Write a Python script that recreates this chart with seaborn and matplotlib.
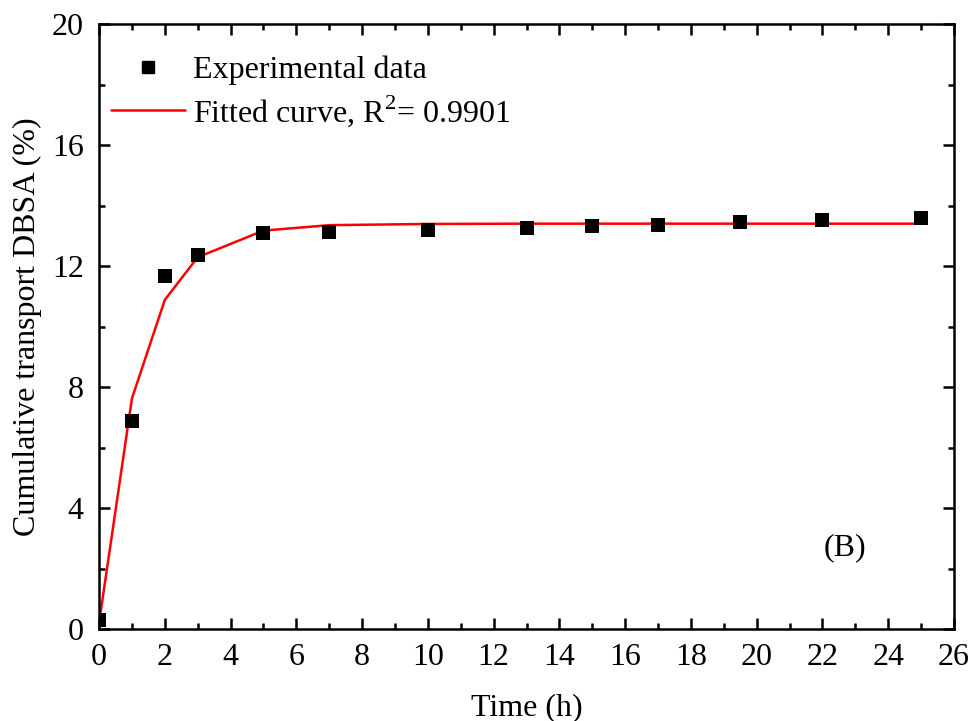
import matplotlib

matplotlib.use("Agg")

import matplotlib.pyplot as plt
import pandas as pd
import seaborn as sns
from matplotlib.lines import Line2D
from matplotlib.ticker import MultipleLocator

# experimental points
time_exp = [0, 1, 2, 3, 5, 7, 10, 13, 15, 17, 19.5, 22, 25]
transport_exp = [0.3, 6.87, 11.68, 12.37, 13.08, 13.13, 13.19, 13.26, 13.32, 13.37, 13.44, 13.53, 13.6]

# fitted curve, same time points
time_fit = [0, 1, 2, 3, 5, 7, 10, 13, 15, 17, 19.5, 22, 25]
transport_fit = [0.2, 7.62, 10.88, 12.29, 13.17, 13.35, 13.39, 13.4, 13.4, 13.4, 13.4, 13.4, 13.4]

exp_df = pd.DataFrame({"time": time_exp, "value": transport_exp})
fit_df = pd.DataFrame({"time": time_fit, "value": transport_fit})

sns.set_style("ticks")
plt.rcParams["font.family"] = ["Liberation Serif", "DejaVu Serif"]
plt.rcParams["mathtext.fontset"] = "custom"
plt.rcParams["mathtext.rm"] = "Liberation Serif"
plt.rcParams["text.color"] = "black"
plt.rcParams["axes.labelcolor"] = "black"

FS = 23

fig = plt.figure(figsize=(9.72, 7.21), dpi=100)
ax = fig.add_axes([0.1019, 0.1276, 0.8796, 0.8391])

sns.lineplot(data=fit_df, x="time", y="value", ax=ax, color="#ff0000", linewidth=1.8, zorder=2)
sns.scatterplot(data=exp_df, x="time", y="value", ax=ax, color="black", marker="s", s=90,
                edgecolor="black", linewidth=0, zorder=3)

ax.set_xlim(0, 26)
ax.set_ylim(0, 20)
ax.xaxis.set_major_locator(MultipleLocator(2))
ax.xaxis.set_minor_locator(MultipleLocator(1))
ax.yaxis.set_major_locator(MultipleLocator(4))
ax.yaxis.set_minor_locator(MultipleLocator(2))
ax.tick_params(which="both", direction="in", top=True, right=True, width=1.8,
               labelsize=FS, colors="black")
ax.tick_params(axis="x", pad=10)
ax.tick_params(axis="y", pad=11)
ax.tick_params(which="major", length=8)
ax.tick_params(which="minor", length=4.5)
for side in ax.spines.values():
    side.set_linewidth(1.8)
    side.set_color("black")

ax.set_xlabel("Time (h)", fontsize=FS, labelpad=15, color="black")
ax.set_ylabel("Cumulative transport DBSA (%)", fontsize=FS, labelpad=7, color="black")

handles = [
    Line2D([], [], color="black", marker="s", linestyle="none", markersize=9),
    Line2D([], [], color="#ff0000", linewidth=1.8),
]
labels = ["Experimental data", "Fitted curve, R$^2$= 0.9901"]
ax.legend(handles, labels, loc="upper left", frameon=False, fontsize=FS,
          handlelength=2.3, handletextpad=0.25, labelspacing=0.25,
          bbox_to_anchor=(-0.012, 0.985), borderaxespad=0.3, labelcolor="black")

ax.text(0.872, 0.134, "(B)", transform=ax.transAxes, fontsize=FS, ha="center", va="center",
        color="black")

fig.savefig("out.png", dpi=100)
